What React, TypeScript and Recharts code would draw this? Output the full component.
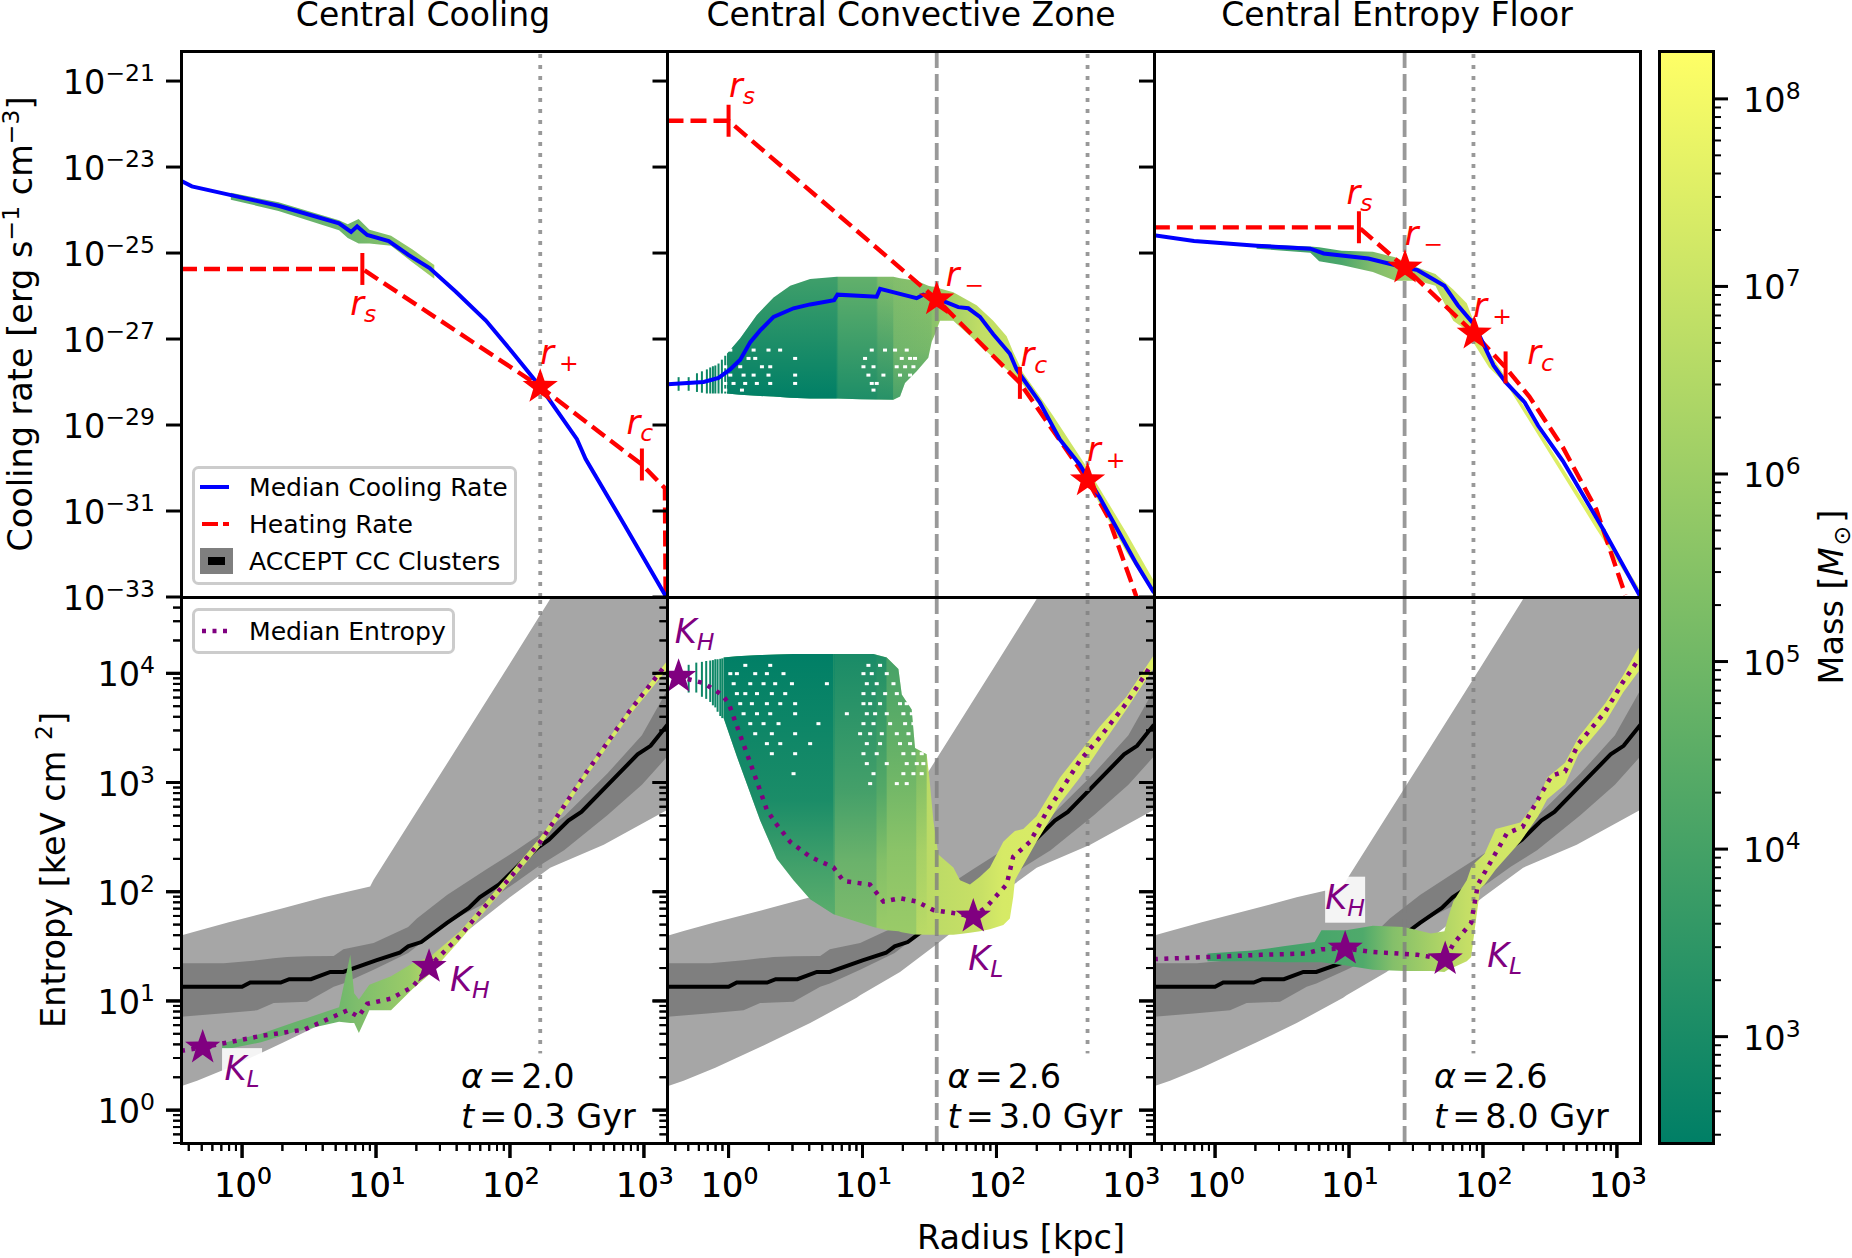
import { Area, ComposedChart, Line, ReferenceDot, ReferenceLine, Scatter, XAxis, YAxis } from "recharts";

const FONT = "DejaVu Sans";
const RED = "#ff0000";
const PURPLE = "#800080";
const LINE_GRAY = "#808080";

const coolingLeft = [[-0.449, -23.33], [-0.375, -23.45], [-0.116, -23.63], [0.271, -23.9], [0.724, -24.31], [0.814, -24.51], [0.859, -24.38], [0.934, -24.58], [1.095, -24.72], [1.24, -25.04], [1.4, -25.35], [1.596, -25.9], [1.82, -26.57], [2.016, -27.3], [2.226, -28.11], [2.5, -29.33], [2.565, -29.79], [2.856, -31.33], [3.176, -33.05]];
const coolingMid = [[-0.456, -28.05], [-0.186, -28.0], [-0.075, -27.905], [0.012, -27.706], [0.087, -27.48], [0.162, -27.072], [0.236, -26.8], [0.336, -26.484], [0.485, -26.285], [0.609, -26.195], [0.788, -26.095], [0.813, -25.968], [1.106, -26.014], [1.131, -25.833], [1.404, -26.05], [1.454, -25.968], [1.554, -26.07], [1.628, -26.15], [1.715, -26.258], [1.79, -26.285], [1.877, -26.484], [1.976, -26.89], [2.1, -27.344], [2.15, -27.706], [2.2, -27.93], [2.324, -28.475], [2.473, -29.335], [2.622, -29.923], [2.772, -30.69], [3.045, -32.23], [3.176, -32.9]];
const coolingRight = [[-0.457, -24.584], [-0.157, -24.72], [0.31, -24.828], [0.711, -24.9], [0.811, -25.01], [1.144, -25.127], [1.378, -25.308], [1.512, -25.398], [1.712, -25.76], [1.812, -26.213], [1.935, -26.665], [2.079, -27.615], [2.169, -28.005], [2.312, -28.475], [2.412, -29.018], [2.596, -29.833], [2.896, -31.416], [3.176, -33.0]];

const heatingLeft = [[-0.456, -25.37], [0.898, -25.37], [2.226, -28.11], [2.985, -29.92], [3.157, -30.47], [3.162, -33]];
const heatingMid = [[-0.456, -21.923], [0, -21.923], [1.554, -26.077], [2.175, -28.02], [2.68, -30.285], [2.834, -31.145], [3.02, -32.774], [3.045, -33]];
const heatingRight = [[-0.457, -24.403], [1.074, -24.403], [1.418, -25.335], [1.935, -26.873], [2.169, -27.66], [2.346, -28.339], [2.596, -29.516], [2.846, -30.964], [3.063, -32.955]];

const entropyLeft = [[-0.456, 0.543], [-0.294, 0.574], [0.142, 0.68], [0.465, 0.738], [0.788, 0.914], [0.869, 0.855], [0.934, 0.973], [1.11, 1.02], [1.273, 1.129], [1.396, 1.313], [1.628, 1.598], [1.79, 1.832], [1.984, 2.105], [2.226, 2.457], [2.565, 3.082], [2.889, 3.648], [3.163, 4.078]];
const entropyMid = [[-0.456, 4.0], [-0.373, 3.969], [-0.186, 3.91], [-0.05, 3.805], [0, 3.727], [0.087, 3.434], [0.162, 3.18], [0.224, 2.965], [0.286, 2.75], [0.348, 2.633], [0.46, 2.457], [0.609, 2.32], [0.783, 2.223], [0.858, 2.098], [1.056, 2.066], [1.156, 1.91], [1.28, 1.941], [1.404, 1.91], [1.529, 1.832], [1.678, 1.805], [1.827, 1.773], [1.926, 1.863], [2.076, 2.066], [2.125, 2.32], [2.25, 2.457], [2.374, 2.73], [2.511, 2.984], [2.622, 3.199], [2.772, 3.414], [2.97, 3.727], [3.157, 4.078]];
const entropyRight = [[-0.457, 1.383], [-0.057, 1.402], [0.344, 1.422], [0.677, 1.434], [0.794, 1.473], [0.971, 1.48], [1.178, 1.449], [1.512, 1.422], [1.718, 1.383], [1.778, 1.52], [1.912, 1.715], [1.962, 2.066], [2.079, 2.32], [2.179, 2.535], [2.296, 2.594], [2.412, 2.848], [2.513, 3.063], [2.613, 3.102], [2.713, 3.355], [2.913, 3.648], [3.046, 3.922], [3.146, 4.098]];

// ACCEPT cool-core sample, same in the three lower panels
const acceptMedian = [[-0.456, 1.129], [0, 1.129], [0.061, 1.168], [0.288, 1.168], [0.352, 1.199], [0.514, 1.199], [0.659, 1.266], [0.756, 1.266], [1.0, 1.371], [1.176, 1.441], [1.24, 1.5], [1.338, 1.539], [1.53, 1.715], [1.693, 1.852], [1.774, 1.949], [1.919, 2.066], [2.065, 2.242], [2.21, 2.406], [2.291, 2.477], [2.436, 2.652], [2.533, 2.73], [2.953, 3.258], [3.05, 3.336], [3.176, 3.53]];
const acceptOuterR = [-0.456, -0.336, -0.099, 0.311, 0.609, 0.956, 0.982, 1.28, 1.554, 2.0, 2.3, 2.7, 3.176];
const acceptOuterHi = [1.598, 1.64, 1.72, 1.85, 1.95, 2.047, 2.11, 2.69, 3.22, 4.09, 4.68, 5.46, 6.39];
const acceptOuterLo = [0.219, 0.27, 0.387, 0.621, 0.797, 1.03, 1.051, 1.266, 1.52, 1.95, 2.22, 2.43, 2.75];
const acceptInnerR = [-0.456, -0.137, 0.112, 0.236, 0.336, 0.485, 0.684, 0.756, 0.982, 1.24, 1.305, 1.53, 1.822, 2.048, 2.21, 2.404, 2.727, 2.985, 3.176];
const acceptInnerHi = [1.344, 1.344, 1.372, 1.39, 1.402, 1.408, 1.412, 1.473, 1.53, 1.676, 1.754, 1.969, 2.203, 2.379, 2.516, 2.69, 3.082, 3.434, 3.85];
const acceptInnerLo = [0.855, 0.887, 0.914, 0.98, 0.985, 0.992, 1.129, 1.16, 1.285, 1.44, 1.5, 1.715, 1.9, 2.09, 2.23, 2.38, 2.7, 2.98, 3.24];

// gas cells, upper and lower edge of each cloud
const gasCoolLeftR = [-0.084, 0.272, 0.724, 0.789, 0.87, 0.951, 1.112, 1.273, 1.435];
const gasCoolLeftHi = [-23.6, -23.82, -24.24, -24.33, -24.21, -24.46, -24.6, -24.92, -25.28];
const gasCoolLeftLo = [-23.76, -24.02, -24.47, -24.65, -24.78, -24.78, -24.83, -25.22, -25.6];
const gasCoolMidR = [-0.012, 0.087, 0.211, 0.336, 0.46, 0.609, 0.808, 0.982, 1.23, 1.28, 1.317, 1.404, 1.491, 1.516, 1.541, 1.578, 1.678, 1.852, 1.976, 2.076, 2.125, 2.2, 2.324, 2.424, 2.672, 2.97, 3.169];
const gasCoolMidHi = [-27.344, -26.982, -26.439, -26.032, -25.76, -25.606, -25.552, -25.552, -25.552, -25.588, -25.606, -25.643, -25.76, -25.778, -25.787, -25.824, -25.914, -26.213, -26.575, -26.937, -27.299, -27.796, -28.339, -28.792, -29.968, -31.507, -32.593];
const gasCoolMidLo = [-28.267, -28.294, -28.321, -28.339, -28.367, -28.385, -28.385, -28.403, -28.412, -28.339, -28.023, -27.751, -27.434, -27.072, -26.891, -26.575, -26.575, -27.072, -27.434, -27.706, -27.842, -28.068, -28.566, -29.018, -30.285, -31.959, -32.91];
const gasCoolRightR = [0.31, 0.711, 0.777, 0.944, 1.178, 1.345, 1.512, 1.645, 1.778, 1.879, 1.935, 2.045, 2.179, 2.846, 3.163];
const gasCoolRightHi = [-24.792, -24.846, -24.864, -24.946, -24.973, -25.1, -25.335, -25.489, -25.851, -26.167, -26.62, -27.299, -27.932, -31.235, -32.774];
const gasCoolRightLo = [-24.9, -24.991, -25.19, -25.281, -25.443, -25.643, -25.643, -25.76, -26.575, -26.801, -27.118, -27.661, -28.068, -31.416, -32.955];

const gasEntLeftR = [-0.149, 0.142, 0.401, 0.724, 0.808, 0.837, 0.872, 0.95, 1.112, 1.273, 1.402, 1.628, 1.984, 2.226, 2.565, 2.889, 3.176];
const gasEntLeftHi = [0.613, 0.699, 0.809, 0.941, 1.422, 1.07, 1.012, 1.148, 1.227, 1.344, 1.402, 1.637, 2.145, 2.496, 3.102, 3.668, 4.117];
const gasEntLeftLo = [0.551, 0.621, 0.72, 0.809, 0.797, 0.797, 0.707, 0.914, 0.914, 1.109, 1.246, 1.559, 2.066, 2.418, 3.043, 3.609, 4.039];
const gasEntMidR = [-0.037, 0.062, 0.236, 0.36, 0.485, 0.609, 0.783, 0.982, 1.081, 1.181, 1.268, 1.293, 1.367, 1.392, 1.479, 1.499, 1.529, 1.566, 1.678, 1.728, 1.802, 1.877, 1.951, 2.051, 2.1, 2.125, 2.138, 2.2, 2.299, 2.473, 2.622, 2.772, 2.97, 3.169];
const gasEntMidHi = [4.145, 4.156, 4.168, 4.172, 4.176, 4.176, 4.176, 4.176, 4.176, 4.145, 4.039, 3.805, 3.668, 3.316, 3.258, 3.043, 2.652, 2.34, 2.223, 2.105, 2.066, 2.137, 2.223, 2.457, 2.516, 2.543, 2.555, 2.574, 2.691, 3.043, 3.277, 3.512, 3.785, 4.156];
const gasEntMidLo = [3.59, 3.238, 2.652, 2.301, 2.105, 1.93, 1.793, 1.715, 1.676, 1.648, 1.637, 1.629, 1.613, 1.609, 1.605, 1.605, 1.605, 1.605, 1.605, 1.613, 1.625, 1.637, 1.656, 1.695, 1.754, 1.949, 2.105, 2.242, 2.457, 2.809, 3.043, 3.316, 3.668, 4.039];
const gasEntRightR = [-0.057, 0.277, 0.51, 0.744, 0.794, 0.978, 1.178, 1.411, 1.612, 1.712, 1.738, 1.778, 1.879, 1.912, 1.945, 1.979, 2.012, 2.095, 2.279, 2.412, 2.479, 2.613, 2.713, 2.913, 3.046, 3.163];
const gasEntRightHi = [1.434, 1.461, 1.5, 1.539, 1.648, 1.648, 1.688, 1.676, 1.617, 1.637, 1.754, 1.91, 2.105, 2.223, 2.27, 2.309, 2.348, 2.574, 2.633, 2.848, 3.043, 3.18, 3.414, 3.727, 3.98, 4.234];
const gasEntRightLo = [1.363, 1.363, 1.355, 1.355, 1.355, 1.324, 1.285, 1.273, 1.273, 1.266, 1.285, 1.305, 1.363, 1.402, 1.715, 2.027, 2.066, 2.203, 2.457, 2.691, 2.848, 2.984, 3.258, 3.551, 3.824, 4.02];

// single sparse radial bins left of the convective-zone cloud: [log r, lo, hi]
const stripesCool = [[-0.373, -28.204, -27.887], [-0.298, -28.204, -27.887], [-0.236, -28.231, -27.796], [-0.199, -28.249, -27.751], [-0.162, -28.267, -27.706], [-0.137, -28.267, -27.661], [-0.117, -28.267, -27.633], [-0.099, -28.267, -27.615], [-0.075, -28.267, -27.57], [-0.05, -28.267, -27.48], [-0.025, -28.267, -27.389]];
const stripesEnt = [[-0.298, 3.824, 4.078], [-0.241, 3.824, 4.098], [-0.199, 3.785, 4.105], [-0.167, 3.766, 4.113], [-0.137, 3.738, 4.117], [-0.117, 3.707, 4.121], [-0.099, 3.688, 4.129], [-0.082, 3.648, 4.129], [-0.062, 3.609, 4.133], [-0.047, 3.59, 4.137]];

// empty cells inside the convective-zone clouds, by row: [log value, log radii]
const holeRowsCool: [number, number[]][] = [
  [-27.257, [0.013, 0.187, 0.298, 0.385, 1.069, 1.168, 1.243, 1.33]],
  [-27.451, [0.149, 0.199, 0.497, 1.019, 1.293, 1.355, 1.392]],
  [-27.645, [-0.025, 0.087, 0.249, 0.311, 1.007, 1.082, 1.255, 1.318, 1.38]],
  [-27.839, [0.013, 0.112, 0.187, 0.298, 0.497, 1.044, 1.156, 1.28, 1.355]],
  [-28.033, [-0.025, 0.037, 0.124, 0.211, 0.311, 0.497, 1.069, 1.106]],
  [-28.188, [-0.025, 0.1, 1.082]],
];
const holeRowsEnt: [number, number[]][] = [
  [4.073, [0.125, 0.311, 1.044, 1.131]],
  [3.997, [0.013, 0.062, 0.199, 0.286, 0.41, 1.007, 1.069, 1.181]],
  [3.905, [0.038, 0.162, 0.261, 0.348, 0.473, 0.734, 1.032, 1.106, 1.231]],
  [3.814, [0.062, 0.125, 0.212, 0.323, 0.423, 1.007, 1.082, 1.169, 1.256]],
  [3.722, [0.087, 0.174, 0.286, 0.386, 0.497, 1.007, 1.057, 1.131, 1.28, 1.33]],
  [3.63, [0.112, 0.212, 0.311, 0.497, 0.883, 1.032, 1.094, 1.181, 1.305, 1.368]],
  [3.539, [0.162, 0.261, 0.373, 0.671, 1.007, 1.082, 1.206, 1.318, 1.38]],
  [3.447, [0.199, 0.323, 0.497, 0.982, 1.057, 1.144, 1.256, 1.343, 1.405]],
  [3.356, [0.286, 0.386, 0.609, 1.032, 1.131, 1.28, 1.355, 1.417]],
  [3.264, [0.323, 0.497, 1.007, 1.106, 1.305, 1.38, 1.442]],
  [3.173, [1.032, 1.181, 1.33, 1.405, 1.454]],
  [3.081, [0.485, 1.082, 1.305, 1.38, 1.442]],
  [2.99, [1.057, 1.256, 1.33]],
];
const holesOf = (rows: [number, number[]][]) => rows.flatMap(([v, rs]) => rs.map((r) => [r, v]));

const yTicksCool = [-21, -23, -25, -27, -29, -31, -33].map((e) => 10 ** e);
const mantissas = [1, 2, 3, 4, 5, 6, 7, 8, 9];
const logTicks = (lo: number, hi: number) => {
  const out: number[] = [];
  for (let e = Math.floor(Math.log10(lo)); e <= Math.ceil(Math.log10(hi)); e++) {
    for (const m of mantissas) {
      const v = m * 10 ** e;
      if (v >= lo && v <= hi) out.push(v);
    }
  }
  return out;
};

const R_DOMAIN = [0.35, 1500];
const Q_DOMAIN = [1e-33, 5e-21];
const K_DOMAIN = [0.5, 5e4];
const MASS_DOMAIN = [271, 1.8e8];

const pts = (list: number[][]) => list.map(([r, v]) => ({ x: 10 ** r, y: 10 ** v }));
const band = (r: number[], hi: number[], lo: number[]) =>
  r.map((v, i) => ({ x: 10 ** v, band: [10 ** lo[i], 10 ** hi[i]] }));
const bandSlice = (r: number[], hi: number[], lo: number[], from: number, to: number) =>
  band(r.slice(from, to), hi.slice(from, to), lo.slice(from, to));

const isMajor = (v: number) => {
  const e = Math.log10(v);
  return Math.abs(e - Math.round(e)) < 1e-6;
};

const Power = ({ x, y, anchor, value }: any) => {
  const e = Math.round(Math.log10(value));
  return (
    <text x={x} y={y} textAnchor={anchor} fontFamily={FONT} fontSize={33.5} fill="#000">
      <tspan>10</tspan>
      <tspan dy={-13} fontSize={23.5}>{e < 0 ? `\u2212${-e}` : e}</tspan>
    </text>
  );
};

const LeftTick = ({ x, y, payload, labelled }: any) => {
  const major = isMajor(payload.value);
  return (
    <g>
      <line x1={x} x2={x - (major ? 15 : 8)} y1={y} y2={y} stroke="#000" strokeWidth={major ? 3 : 2} />
      {major && labelled && <Power x={x - 26} y={y + 13} anchor="end" value={payload.value} />}
    </g>
  );
};

const BottomTick = ({ x, y, payload }: any) => {
  const major = isMajor(payload.value);
  return (
    <g>
      <line x1={x} x2={x} y1={y} y2={y + (major ? 15 : 8)} stroke="#000" strokeWidth={major ? 3 : 2} />
      {major && <Power x={x + 1} y={y + 54} anchor="middle" value={payload.value} />}
    </g>
  );
};

const RightTick = ({ x, y, payload }: any) => {
  const major = isMajor(payload.value);
  return (
    <g>
      <line x1={x} x2={x + (major ? 15 : 8)} y1={y} y2={y} stroke="#000" strokeWidth={major ? 3 : 2} />
      {major && <Power x={x + 30} y={y + 13} anchor="start" value={payload.value} />}
    </g>
  );
};

const StarShape = ({ cx, cy, fill }: any) => {
  const p: string[] = [];
  for (let i = 0; i < 10; i++) {
    const r = i % 2 ? 7.4 : 18.5;
    const a = -Math.PI / 2 + (i * Math.PI) / 5;
    p.push(`${cx + r * Math.cos(a)},${cy + r * Math.sin(a)}`);
  }
  return <polygon points={p.join(" ")} fill={fill} />;
};

const VBar = ({ cx, cy }: any) => <line x1={cx} x2={cx} y1={cy - 16} y2={cy + 16} stroke={RED} strokeWidth={4} />;
const Hole = ({ cx, cy }: any) => <rect x={cx - 2} y={cy - 1.5} width={4} height={3} fill="#fff" />;

const MathLabel = ({ cx, cy, base, sub, color, boxed }: any) => {
  const upright = sub === "+" || sub === "\u2212";
  return (
    <g>
      {boxed && <rect x={cx - 20} y={cy - 24} width={40} height={46} fill="#fff" fillOpacity={0.88} />}
      <text x={cx} y={cy + 8} textAnchor="middle" fontFamily={FONT} fontSize={33.5} fill={color}>
        <tspan fontStyle="italic">{base}</tspan>
        <tspan dx={upright ? 5 : 0} dy={7} fontSize={23.5} fontStyle={upright ? "normal" : "italic"}>{sub}</tspan>
      </text>
    </g>
  );
};

const RunLabel = ({ cx, cy, alpha, time }: any) => (
  <g>
    <rect x={cx - 8} y={cy - 35} width={190} height={90} fill="#fff" />
    <text x={cx} y={cy} fontFamily={FONT} fontSize={33.5} fill="#000">
      <tspan fontStyle="italic">α</tspan>
      <tspan dx={5}>=</tspan>
      <tspan dx={5}>{alpha}</tspan>
    </text>
    <text x={cx} y={cy + 40} fontFamily={FONT} fontSize={33.5} fill="#000">
      <tspan fontStyle="italic">t</tspan>
      <tspan dx={5}>=</tspan>
      <tspan dx={5}>{`${time} Gyr`}</tspan>
    </text>
  </g>
);

const Defs = ({ id, stops, vertical }: any) => (
  <defs>
    <linearGradient id={id} x1="0" y1="0" x2={vertical ? "0" : "1"} y2={vertical ? "1" : "0"}>
      {stops.map(([o, c, a]: any, i: number) => (
        <stop key={i} offset={o} stopColor={c} stopOpacity={a ?? 1} />
      ))}
    </linearGradient>
  </defs>
);

const PANEL_W = 486.5;
const TOP_Y = 51;
const MID_Y = 597;
const BOTTOM_Y = 1143;
const PAGE_W = 1852;
const PAGE_H = 1258;

const Panel = ({ col, row, children, labelled }: any) => {
  const left = 181 + col * PANEL_W;
  const lower = row === 1;
  return (
    <div style={{ position: "absolute", left: 0, top: 0 }}>
      <ComposedChart
        width={PAGE_W}
        height={PAGE_H}
        margin={{
          left: left - 60,
          right: PAGE_W - left - PANEL_W,
          top: lower ? MID_Y : TOP_Y,
          bottom: lower ? PAGE_H - BOTTOM_Y - 30 : PAGE_H - MID_Y,
        }}
      >
        <XAxis
          xAxisId={0}
          type="number"
          dataKey="x"
          scale="log"
          domain={R_DOMAIN}
          allowDataOverflow
          ticks={logTicks(R_DOMAIN[0], R_DOMAIN[1])}
          interval={0}
          hide={!lower}
          height={30}
          axisLine={false}
          tickLine={false}
          tickSize={0}
          tickMargin={0}
          tick={(p: any) => <BottomTick {...p} />}
        />
        <YAxis
          yAxisId={0}
          type="number"
          scale="log"
          domain={lower ? K_DOMAIN : Q_DOMAIN}
          allowDataOverflow
          ticks={lower ? logTicks(K_DOMAIN[0], K_DOMAIN[1]) : yTicksCool}
          interval={0}
          width={60}
          axisLine={false}
          tickLine={false}
          tickSize={0}
          tickMargin={0}
          tick={(p: any) => <LeftTick {...p} labelled={labelled} />}
        />
        {children}
      </ComposedChart>
    </div>
  );
};

const Gas = (id: string, data: any[]) => (
  <Area data={data} dataKey="band" type="linear" stroke="none" fill={`url(#${id})`} fillOpacity={1} dot={false} activeDot={false} isAnimationActive={false} />
);
const Solid = (data: any[], color: string) => (
  <Line data={data} dataKey="y" type="linear" stroke={color} strokeWidth={4} dot={false} activeDot={false} isAnimationActive={false} />
);
const Heat = (data: any[]) => (
  <Line data={data} dataKey="y" type="linear" stroke={RED} strokeWidth={4.4} strokeDasharray="16 7" dot={false} activeDot={false} isAnimationActive={false} />
);
const Dotted = (data: any[]) => (
  <Line data={data} dataKey="y" type="linear" stroke={PURPLE} strokeWidth={4.5} strokeDasharray="4 6.5" dot={false} activeDot={false} isAnimationActive={false} />
);
const Marks = (list: number[][], shape: any, fill: string) => (
  <Scatter data={pts(list)} dataKey="y" shape={shape} fill={fill} isAnimationActive={false} />
);
const VGuide = (logR: number, dashed: boolean) => (
  <ReferenceLine x={10 ** logR} stroke={LINE_GRAY} strokeOpacity={0.8} strokeWidth={3.8} strokeDasharray={dashed ? "17 6" : "4 7"} />
);
const Note = (logR: number, logV: number, base: string, sub: string, color: string, boxed = false) => (
  <ReferenceDot
    x={10 ** logR}
    y={10 ** logV}
    isFront
    shape={(p: any) => <MathLabel {...p} base={base} sub={sub} color={color} boxed={boxed} />}
  />
);
const Run = (alpha: string, time: string) => (
  <ReferenceDot
    x={10 ** 1.635}
    y={10 ** 0.199}
    isFront
    shape={(p: any) => <RunLabel {...p} alpha={alpha} time={time} />}
  />
);

// drawn in its own chart below the gas panel, the gas cloud covers the median line
const AcceptPanel = ({ col }: any) => (
  <Panel col={col} row={1}>
    <Area data={band(acceptOuterR, acceptOuterHi, acceptOuterLo)} dataKey="band" type="linear" stroke="none" fill="#a6a6a6" fillOpacity={1} dot={false} activeDot={false} isAnimationActive={false} />
    <Area data={band(acceptInnerR, acceptInnerHi, acceptInnerLo)} dataKey="band" type="linear" stroke="none" fill="#7f7f7f" fillOpacity={1} dot={false} activeDot={false} isAnimationActive={false} />
    <Line data={pts(acceptMedian)} dataKey="y" type="linear" stroke="#000" strokeWidth={4} dot={false} activeDot={false} isAnimationActive={false} />
  </Panel>
);

const LegendRow = ({ y, kind, label }: any) => (
  <g>
    {kind === "blue" && <line x1={8} x2={37} y1={y} y2={y} stroke="#0000ff" strokeWidth={4} />}
    {kind === "red" && <line x1={10} x2={37} y1={y} y2={y} stroke={RED} strokeWidth={4} strokeDasharray="16 5" />}
    {kind === "purple" && <line x1={10} x2={37} y1={y} y2={y} stroke={PURPLE} strokeWidth={4.5} strokeDasharray="4 6.5" />}
    {kind === "accept" && (
      <g>
        <rect x={8} y={y - 13} width={33} height={26} fill="#7f7f7f" />
        <rect x={16} y={y - 4} width={17} height={8} fill="#000" />
      </g>
    )}
    <text x={57} y={y + 9} fontFamily={FONT} fontSize={25.1} fill="#000">{label}</text>
  </g>
);

const LegendBox = ({ left, top, width, height, rows }: any) => (
  <svg style={{ position: "absolute", left, top, overflow: "visible" }} width={width} height={height}>
    <rect x={1.5} y={1.5} width={width - 3} height={height - 3} rx={5} fill="#fff" fillOpacity={0.8} stroke="#cccccc" strokeWidth={3} />
    {rows.map((r: any) => (
      <LegendRow key={r.label} {...r} />
    ))}
  </svg>
);

const MASS_STOPS = [[0, "#ffff66"], [1, "#007f66"]];
const massRows = [
  { x: 0, band: [MASS_DOMAIN[0], MASS_DOMAIN[1]] },
  { x: 1, band: [MASS_DOMAIN[0], MASS_DOMAIN[1]] },
];

const GAS_A = [[0, "#5fae6c"], [0.6, "#70b76c"], [0.8, "#86c16a"], [1, "#a0cf66"]];
const GAS_B = [[0, "#3f9f6a"], [0.258, "#3f9f6a"], [0.262, "#62b06b"], [0.35, "#62b06b"], [0.355, "#80bc6c"], [0.49, "#8cc36a"], [0.5, "#9acb66"], [0.6, "#c2de66"], [1, "#d8ec66"]];
const SHADE_B1 = [[0, "#007f66", 0], [1, "#007f66", 1]];
const SHADE_B2 = [[0, "#007f66", 0], [1, "#007f66", 0.7]];
const SHADE_B3 = [[0, "#007f66", 0], [0.6, "#007f66", 0.15], [1, "#007f66", 0.45]];
const GAS_C = [[0, "#3f9f6a"], [0.22, "#4aa66b"], [0.3, "#7fbb6c"], [0.42, "#a5cf68"], [0.5, "#c6e066"], [0.6, "#d6e966"], [1, "#e4f266"]];
const GAS_D = [[0, "#5fae6c"], [0.25, "#6db66c"], [0.3, "#7dbd6c"], [0.42, "#9acb68"], [0.5, "#c6e066"], [1, "#dcee66"]];
const GAS_E = [[0, "#5aad6c"], [0.258, "#5aad6c"], [0.26, "#7dbb6c"], [0.355, "#7dbb6c"], [0.357, "#9acb68"], [0.447, "#9acb68"], [0.45, "#b8d966"], [0.6, "#c8e066"], [0.65, "#d6ea66"], [1, "#dcee66"]];
const SHADE_E1 = [[0, "#007f66", 1], [0.564, "#007f66", 0.7], [0.83, "#007f66", 0.25], [1, "#007f66", 0]];
const SHADE_E2 = [[0, "#007f66", 0.8], [0.5, "#007f66", 0.45], [0.75, "#007f66", 0.15], [1, "#007f66", 0]];
const SHADE_E3 = [[0, "#007f66", 0.55], [0.4, "#007f66", 0.3], [0.7, "#007f66", 0.1], [1, "#007f66", 0]];
const GAS_F = [[0, "#3f9f6a"], [0.2, "#45a36b"], [0.36, "#4faa6b"], [0.43, "#84bf6a"], [0.52, "#a6d066"], [0.6, "#c4de66"], [0.65, "#cfe566"], [1, "#e0f066"]];

export default function App() {
  return (
    <div style={{ position: "absolute", left: 0, top: 0, width: PAGE_W, height: PAGE_H, background: "#fff", overflow: "hidden" }}>
      <Panel col={0} row={0} labelled>
        <Defs id="gasA" stops={GAS_A} />
        {Gas("gasA", band(gasCoolLeftR, gasCoolLeftHi, gasCoolLeftLo))}
        {VGuide(2.226, false)}
        {Heat(pts(heatingLeft))}
        {Solid(pts(coolingLeft), "#0000ff")}
        {Marks([[0.898, -25.37], [2.985, -29.92]], VBar, RED)}
        {Marks([[2.226, -28.11]], StarShape, RED)}
        {Note(0.905, -26.26, "r", "s", RED)}
        {Note(2.37, -27.39, "r", "+", RED)}
        {Note(2.97, -29.02, "r", "c", RED)}
      </Panel>
      <Panel col={1} row={0}>
        <Defs id="gasB" stops={GAS_B} />
        <Defs id="shB1" stops={SHADE_B1} vertical />
        <Defs id="shB2" stops={SHADE_B2} vertical />
        <Defs id="shB3" stops={SHADE_B3} vertical />
        {Gas("gasB", band(gasCoolMidR, gasCoolMidHi, gasCoolMidLo))}
        {Gas("shB1", bandSlice(gasCoolMidR, gasCoolMidHi, gasCoolMidLo, 0, 7))}
        {Gas("shB2", bandSlice(gasCoolMidR, gasCoolMidHi, gasCoolMidLo, 6, 9))}
        {Gas("shB3", bandSlice(gasCoolMidR, gasCoolMidHi, gasCoolMidLo, 8, 14))}
        {stripesCool.map(([r, lo, hi]) => (
          <ReferenceLine key={r} segment={[{ x: 10 ** r, y: 10 ** lo }, { x: 10 ** r, y: 10 ** hi }]} stroke="#0e8766" strokeWidth={2} />
        ))}
        {Marks(holesOf(holeRowsCool), Hole, "#fff")}
        {VGuide(1.554, true)}
        {VGuide(2.68, false)}
        {Heat(pts(heatingMid))}
        {Solid(pts(coolingMid), "#0000ff")}
        {Marks([[0, -21.923], [2.175, -28.02]], VBar, RED)}
        {Marks([[1.554, -26.077], [2.68, -30.285]], StarShape, RED)}
        {Note(0.1, -21.19, "r", "s", RED)}
        {Note(1.765, -25.58, "r", "\u2212", RED)}
        {Note(2.279, -27.45, "r", "c", RED)}
        {Note(2.82, -29.65, "r", "+", RED)}
      </Panel>
      <Panel col={2} row={0}>
        <Defs id="gasC" stops={GAS_C} />
        {Gas("gasC", band(gasCoolRightR, gasCoolRightHi, gasCoolRightLo))}
        {VGuide(1.415, true)}
        {VGuide(1.929, false)}
        {Heat(pts(heatingRight))}
        {Solid(pts(coolingRight), "#0000ff")}
        {Marks([[1.074, -24.403], [2.169, -27.66]], VBar, RED)}
        {Marks([[1.418, -25.335], [1.935, -26.873]], StarShape, RED)}
        {Note(1.078, -23.68, "r", "s", RED)}
        {Note(1.56, -24.63, "r", "\u2212", RED)}
        {Note(2.072, -26.3, "r", "+", RED)}
        {Note(2.43, -27.39, "r", "c", RED)}
      </Panel>

      <AcceptPanel col={0} />
      <AcceptPanel col={1} />
      <AcceptPanel col={2} />

      <Panel col={0} row={1} labelled>
        <Defs id="gasD" stops={GAS_D} />
        {Gas("gasD", band(gasEntLeftR, gasEntLeftHi, gasEntLeftLo))}
        {VGuide(2.226, false)}
        {Dotted(pts(entropyLeft))}
        {Marks([[-0.294, 0.574], [1.396, 1.313]], StarShape, PURPLE)}
        {Note(0, 0.348, "K", "L", PURPLE, true)}
        {Note(1.7, 1.168, "K", "H", PURPLE)}
        {Run("2.0", "0.3")}
      </Panel>
      <Panel col={1} row={1}>
        <Defs id="gasE" stops={GAS_E} />
        <Defs id="shE1" stops={SHADE_E1} vertical />
        <Defs id="shE2" stops={SHADE_E2} vertical />
        <Defs id="shE3" stops={SHADE_E3} vertical />
        {Gas("gasE", band(gasEntMidR, gasEntMidHi, gasEntMidLo))}
        {Gas("shE1", bandSlice(gasEntMidR, gasEntMidHi, gasEntMidLo, 0, 7))}
        {Gas("shE2", bandSlice(gasEntMidR, gasEntMidHi, gasEntMidLo, 6, 10))}
        {Gas("shE3", bandSlice(gasEntMidR, gasEntMidHi, gasEntMidLo, 9, 15))}
        {stripesEnt.map(([r, lo, hi]) => (
          <ReferenceLine key={r} segment={[{ x: 10 ** r, y: 10 ** lo }, { x: 10 ** r, y: 10 ** hi }]} stroke="#0e8766" strokeWidth={2} />
        ))}
        {Marks(holesOf(holeRowsEnt), Hole, "#fff")}
        {VGuide(1.554, true)}
        {VGuide(2.68, false)}
        {Dotted(pts(entropyMid))}
        {Marks([[-0.373, 3.969], [1.827, 1.773]], StarShape, PURPLE)}
        {Note(-0.254, 4.35, "K", "H", PURPLE)}
        {Note(1.92, 1.355, "K", "L", PURPLE)}
        {Run("2.6", "3.0")}
      </Panel>
      <Panel col={2} row={1}>
        <Defs id="gasF" stops={GAS_F} />
        {Gas("gasF", band(gasEntRightR, gasEntRightHi, gasEntRightLo))}
        {VGuide(1.415, true)}
        {VGuide(1.929, false)}
        {Dotted(pts(entropyRight))}
        {Marks([[0.971, 1.48], [1.718, 1.383]], StarShape, PURPLE)}
        {Note(0.971, 1.918, "K", "H", PURPLE, true)}
        {Note(2.162, 1.383, "K", "L", PURPLE)}
        {Run("2.6", "8.0")}
      </Panel>

      <div style={{ position: "absolute", left: 0, top: 0 }}>
        <ComposedChart width={PAGE_W} height={PAGE_H} data={massRows} margin={{ left: 1659, right: PAGE_W - 1659 - 54 - 60, top: TOP_Y, bottom: PAGE_H - BOTTOM_Y }}>
          <Defs id="mass" stops={MASS_STOPS} vertical />
          <XAxis type="number" dataKey="x" domain={[0, 1]} hide />
          <YAxis
            orientation="right"
            type="number"
            scale="log"
            domain={MASS_DOMAIN}
            allowDataOverflow
            ticks={logTicks(MASS_DOMAIN[0], MASS_DOMAIN[1])}
            interval={0}
            width={60}
            axisLine={false}
            tickLine={false}
            tickSize={0}
            tickMargin={0}
            tick={(p: any) => <RightTick {...p} />}
          />
          <Area dataKey="band" type="linear" stroke="none" fill="url(#mass)" fillOpacity={1} dot={false} activeDot={false} isAnimationActive={false} />
        </ComposedChart>
      </div>

      {/* frames sit above the data so the spines stay black */}
      {[0, 1, 2].map((c) => (
        <div key={c} style={{ position: "absolute", left: 181 + c * PANEL_W - 1.5, top: TOP_Y - 1.5, width: PANEL_W + 3, height: BOTTOM_Y - TOP_Y + 3, boxSizing: "border-box", border: "3px solid #000" }} />
      ))}
      <div style={{ position: "absolute", left: 179.5, top: MID_Y - 1.5, width: PANEL_W * 3 + 3, height: 3, background: "#000" }} />
      <div style={{ position: "absolute", left: 1657.5, top: TOP_Y - 1.5, width: 57, height: BOTTOM_Y - TOP_Y + 3, boxSizing: "border-box", border: "3px solid #000" }} />

      <LegendBox
        left={192}
        top={466}
        width={325}
        height={119}
        rows={[
          { y: 21, kind: "blue", label: "Median Cooling Rate" },
          { y: 58, kind: "red", label: "Heating Rate" },
          { y: 95, kind: "accept", label: "ACCEPT CC Clusters" },
        ]}
      />
      <LegendBox left={192} top={608} width={263} height={46} rows={[{ y: 23, kind: "purple", label: "Median Entropy" }]} />

      <svg style={{ position: "absolute", left: 0, top: 0 }} width={PAGE_W} height={PAGE_H} fontFamily={FONT} fill="#000">
        <text x={423} y={26} textAnchor="middle" fontSize={33}>Central Cooling</text>
        <text x={911} y={26} textAnchor="middle" fontSize={33}>Central Convective Zone</text>
        <text x={1397} y={26} textAnchor="middle" fontSize={33}>Central Entropy Floor</text>
        <text x={1021} y={1249} textAnchor="middle" fontSize={33.5}>Radius [kpc]</text>
        <text transform="translate(32 324) rotate(-90)" textAnchor="middle" fontSize={33.5}>
          Cooling rate [erg s<tspan dy={-13} fontSize={23.5}>{"\u22121"}</tspan>
          <tspan dy={13}> cm</tspan>
          <tspan dy={-13} fontSize={23.5}>{"\u22123"}</tspan>
          <tspan dy={13}>]</tspan>
        </text>
        <text transform="translate(65 870) rotate(-90)" textAnchor="middle" fontSize={33.5}>
          Entropy [keV cm <tspan dy={-13} fontSize={23.5}>2</tspan>
          <tspan dy={13}>]</tspan>
        </text>
        <text transform="translate(1843 597) rotate(-90)" textAnchor="middle" fontSize={33.5}>
          Mass [<tspan fontStyle="italic">M</tspan>
          <tspan dx={2} dy={7} fontSize={23.5}>{"\u2299"}</tspan>
          <tspan dx={3} dy={-7}>]</tspan>
        </text>
      </svg>
    </div>
  );
}
